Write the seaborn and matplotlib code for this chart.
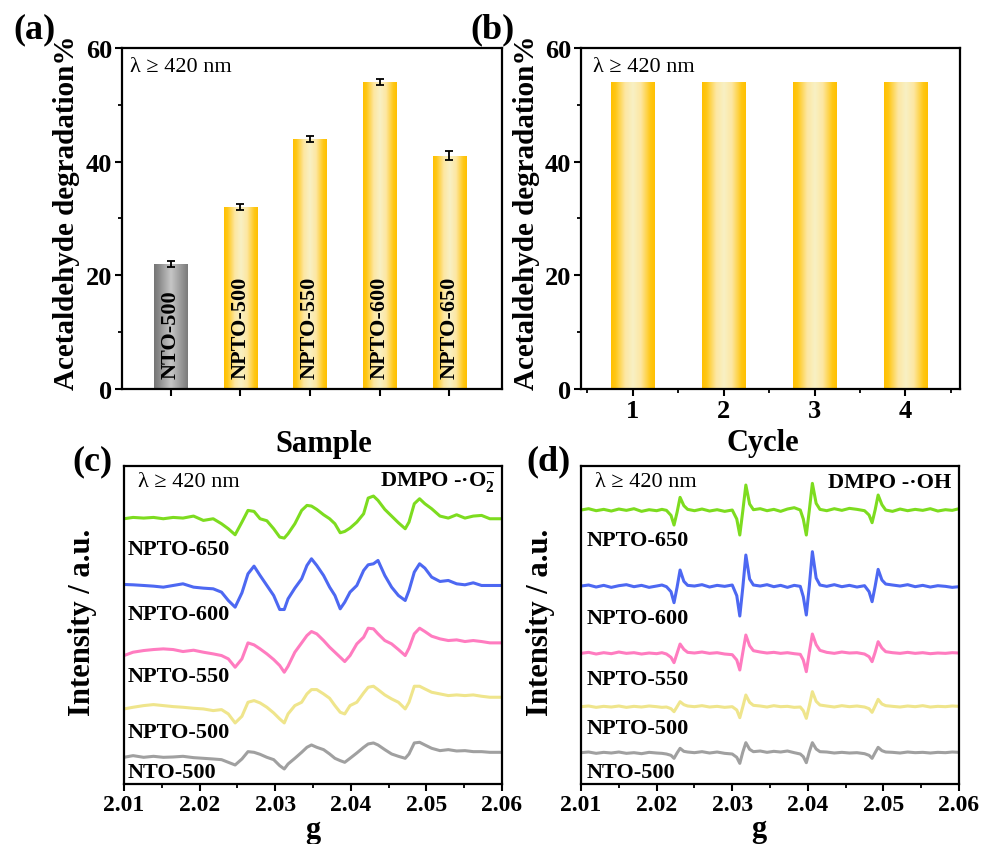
import numpy as np
import matplotlib
matplotlib.use('Agg')
import matplotlib.pyplot as plt
from matplotlib.colors import LinearSegmentedColormap
from matplotlib.ticker import MultipleLocator
import seaborn as sns

# (a) degradation of each sample
samples = ['NTO-500', 'NPTO-500', 'NPTO-550', 'NPTO-600', 'NPTO-650']
degradation = [22.0, 32.0, 44.0, 54.0, 41.0]
degradation_err = [0.5, 0.5, 0.5, 0.6, 0.8]

# (b) cycling test
cycles = ['1', '2', '3', '4']
cycle_degradation = [54.0, 54.0, 54.0, 54.0]

# (c) DMPO-O2- spectra (stacked, a.u.)
g_c = [2.0100, 2.0112, 2.0126, 2.0139, 2.0152, 2.0165, 2.0178, 2.0192, 2.0205, 2.0218,
       2.0229, 2.0238, 2.0247, 2.0256, 2.0264, 2.0272, 2.0280, 2.0289, 2.0298, 2.0306,
       2.0312, 2.0317, 2.0326, 2.0335, 2.0342, 2.0348, 2.0355, 2.0364, 2.0372, 2.0379,
       2.0386, 2.0392, 2.0399, 2.0408, 2.0417, 2.0423, 2.0430, 2.0436, 2.0445, 2.0454,
       2.0463, 2.0472, 2.0477, 2.0484, 2.0491, 2.0498, 2.0507, 2.0518, 2.0529, 2.0540,
       2.0551, 2.0562, 2.0573, 2.0584, 2.0600]
o2_npto650 = [795, 799, 797, 799, 795, 799, 797, 803, 790, 795,
              780, 765, 747, 785, 820, 817, 795, 789, 765, 740,
              737, 750, 780, 820, 835, 833, 823, 807, 795, 780,
              753, 757, 767, 785, 810, 857, 863, 850, 823, 803,
              783, 765, 785, 840, 855, 840, 825, 803, 797, 807,
              797, 803, 805, 795, 795]
o2_npto600 = [598, 597, 595, 593, 590, 595, 600, 590, 587, 585,
              575, 550, 530, 573, 630, 653, 625, 595, 565, 523,
              523, 555, 587, 615, 655, 675, 655, 625, 590, 565,
              525, 545, 575, 595, 640, 657, 660, 670, 625, 590,
              565, 550, 580, 635, 660, 647, 620, 607, 610, 600,
              597, 603, 595, 595, 595]
o2_npto550 = [385, 395, 400, 403, 405, 403, 397, 401, 395, 390,
              385, 375, 350, 375, 423, 417, 405, 390, 373, 355,
              335, 353, 395, 423, 445, 457, 450, 430, 410, 395,
              380, 367, 385, 420, 440, 467, 465, 450, 430, 420,
              403, 385, 407, 450, 467, 457, 443, 435, 430, 432,
              427, 430, 427, 423, 423]
o2_npto500 = [225, 230, 235, 238, 235, 232, 230, 227, 225, 220,
              223, 210, 183, 203, 245, 250, 243, 230, 213, 195,
              183, 210, 235, 245, 270, 283, 283, 270, 257, 235,
              215, 210, 235, 245, 273, 290, 293, 283, 267, 255,
              245, 225, 245, 293, 293, 285, 275, 270, 265, 267,
              265, 267, 263, 260, 260]
o2_nto500 = [80, 85, 80, 83, 80, 81, 83, 79, 77, 75,
             73, 65, 57, 75, 97, 95, 89, 80, 73, 55,
             45, 60, 77, 95, 110, 117, 110, 103, 90, 77,
             70, 65, 77, 93, 110, 120, 123, 117, 103, 90,
             83, 77, 90, 123, 125, 117, 107, 100, 103, 99,
             100, 97, 97, 95, 95]

# (d) DMPO-OH spectra (stacked, a.u.)
g_d = [2.0100, 2.0110, 2.0120, 2.0130, 2.0140, 2.0150, 2.0160, 2.0170, 2.0180, 2.0190, 2.0200, 2.0207,
       2.0213, 2.0219, 2.0223, 2.0227, 2.0231, 2.0236, 2.0241,
       2.0250, 2.0260, 2.0270, 2.0280, 2.0290, 2.0300,
       2.0306, 2.0310, 2.0314, 2.0318, 2.0323, 2.0328,
       2.0337, 2.0346, 2.0355, 2.0364, 2.0373, 2.0382, 2.0390,
       2.0394, 2.0398, 2.0402, 2.0406, 2.0411, 2.0416,
       2.0425, 2.0435, 2.0445, 2.0455, 2.0465, 2.0475,
       2.0481, 2.0485, 2.0489, 2.0493, 2.0498, 2.0503,
       2.0512, 2.0522, 2.0532, 2.0542, 2.0552, 2.0562, 2.0572, 2.0582, 2.0591, 2.0600]
oh_npto650 = [822, 826, 820, 824, 819, 825, 821, 826, 818, 823, 820, 824,
              821, 806, 777, 815, 860, 835, 824,
              820, 825, 819, 823, 818, 822,
              795, 747, 820, 897, 840, 823,
              826, 820, 824, 818, 825, 829, 822,
              795, 747, 822, 902, 842, 824,
              820, 826, 821, 827, 824, 820,
              807, 784, 822, 867, 838, 822,
              818, 825, 820, 824, 821, 826, 819, 823, 821, 826]
oh_npto600 = [594, 597, 591, 596, 590, 595, 598, 592, 596, 590, 594, 597,
              592, 577, 544, 590, 642, 608, 596,
              594, 598, 591, 596, 593, 597,
              565, 504, 590, 687, 615, 597,
              594, 598, 592, 596, 590, 596, 593,
              562, 507, 595, 697, 618, 597,
              593, 598, 592, 596, 591, 595,
              577, 547, 593, 644, 612, 600,
              597, 594, 598, 592, 596, 591, 595, 593, 590, 592]
oh_npto550 = [392, 395, 390, 394, 391, 396, 392, 394, 390, 393, 391, 394,
              390, 380, 364, 392, 420, 404, 395,
              393, 396, 392, 394, 390, 388,
              372, 342, 395, 447, 415, 400,
              396, 393, 395, 392, 394, 391, 389,
              372, 337, 396, 450, 418, 401,
              395, 392, 396, 393, 394, 390,
              382, 367, 395, 427, 408, 397,
              394, 392, 395, 392, 394, 391, 393, 392, 394, 393]
oh_npto500 = [232, 234, 230, 233, 231, 234, 230, 233, 231, 234, 232, 230,
              231, 226, 217, 232, 247, 238, 234,
              232, 235, 231, 233, 230, 232,
              222, 199, 232, 267, 245, 236,
              234, 231, 235, 232, 233, 230, 231,
              220, 197, 235, 277, 248, 237,
              234, 231, 235, 232, 234, 231,
              226, 215, 234, 254, 240, 235,
              233, 231, 234, 232, 235, 231, 233, 232, 234, 233]
oh_nto500 = [94, 96, 92, 95, 93, 96, 92, 94, 91, 95, 93, 92,
             90, 86, 77, 93, 107, 98, 96,
             94, 97, 93, 96, 92, 90,
             80, 62, 96, 124, 104, 97,
             99, 95, 98, 96, 99, 94, 90,
             82, 64, 97, 124, 105, 97,
             96, 93, 95, 93, 94, 91,
             86, 77, 94, 110, 100, 96,
             95, 93, 96, 94, 95, 93, 95, 94, 96, 95]

curve_names = ['NPTO-650', 'NPTO-600', 'NPTO-550', 'NPTO-500', 'NTO-500']
curve_colors = ['#7ddc1f', '#4d68f2', '#ff7cc0', '#efe58c', '#a0a0a0']

sns.set_style('ticks')
plt.rcParams['font.family'] = ['Liberation Serif', 'DejaVu Serif']
plt.rcParams['mathtext.fontset'] = 'custom'
plt.rcParams['mathtext.rm'] = 'Liberation Serif'
plt.rcParams['mathtext.bf'] = 'Liberation Serif:bold'
for key in ['text.color', 'axes.labelcolor', 'xtick.color', 'ytick.color',
            'axes.edgecolor']:
    plt.rcParams[key] = 'black'

gold = LinearSegmentedColormap.from_list('gold', [
    (0.0, '#ffc000'), (0.1, '#ffc714'), (0.32, '#fde7a2'), (0.5, '#f8f0c4'),
    (0.68, '#fde7a2'), (0.9, '#ffc714'), (1.0, '#ffc000')])
grey = LinearSegmentedColormap.from_list('grey', [
    (0.0, '#747474'), (0.12, '#858585'), (0.5, '#c6c6c6'),
    (0.88, '#8c8c8c'), (1.0, '#7a7a7a')])


def shade_bars(ax, cmaps):
    xl, yl = ax.get_xlim(), ax.get_ylim()
    grad = np.linspace(0, 1, 256).reshape(1, -1)
    for patch, cm in zip(ax.patches, cmaps):
        bb = patch.get_bbox()
        im = ax.imshow(grad, cmap=cm, extent=[bb.x0, bb.x1, bb.y0, bb.y1],
                       aspect='auto', zorder=2, interpolation='bilinear')
        im.set_clip_path(patch)
        patch.set_edgecolor('none')
    ax.set_xlim(xl)
    ax.set_ylim(yl)


def style_ticks(ax, size=17):
    ax.tick_params(direction='out', width=1.5, length=5, pad=2, labelsize=size)
    ax.tick_params(which='minor', direction='out', width=1.3, length=3)
    for lab in ax.get_xticklabels() + ax.get_yticklabels():
        lab.set_fontweight('bold')
    for s in ax.spines.values():
        s.set_visible(True)
        s.set_linewidth(1.6)
        s.set_color('black')


fig = plt.figure(figsize=(9.81, 8.45), dpi=100)
ax_a = fig.add_axes([0.1244, 0.5385, 0.3874, 0.4036])
ax_b = fig.add_axes([0.5923, 0.5385, 0.3863, 0.4036])
ax_c = fig.add_axes([0.1264, 0.0710, 0.3853, 0.3763])
ax_d = fig.add_axes([0.5923, 0.0710, 0.3853, 0.3763])

# (a)
sns.barplot(x=samples, y=degradation, ax=ax_a, color='#ffc000', width=0.475,
            saturation=1)
ax_a.set_xlim(-0.7, 4.76)
ax_a.set_ylim(0, 60)
shade_bars(ax_a, [grey] + [gold] * 4)
ax_a.errorbar(range(len(samples)), degradation, yerr=degradation_err, fmt='none',
              ecolor='black', elinewidth=1.3, capsize=3, capthick=1.3, zorder=4)
for i, name in enumerate(samples):
    ax_a.text(i, 2.0, name, rotation=90, ha='center', va='bottom', fontsize=16,
              fontweight='bold', zorder=5)
ax_a.set_yticks([0, 20, 40, 60])
ax_a.yaxis.set_minor_locator(MultipleLocator(10))
ax_a.set_xticks(range(len(samples)))
ax_a.set_xticklabels([])
style_ticks(ax_a, 19)
ax_a.set_xlabel('Sample', fontsize=22, fontweight='bold')
ax_a.xaxis.set_label_coords(0.53, -0.117)
ax_a.set_ylabel('Acetaldehyde degradation%', fontsize=21, fontweight='bold')
ax_a.yaxis.set_label_coords(-0.11, 0.52)
ax_a.text(0.02, 0.947, 'λ ≥ 420 nm', transform=ax_a.transAxes, fontsize=16,
          va='center')

# (b)
sns.barplot(x=cycles, y=cycle_degradation, ax=ax_b, color='#ffc000', width=0.48,
            saturation=1)
ax_b.set_xlim(-0.57, 3.6)
ax_b.set_ylim(0, 60)
shade_bars(ax_b, [gold] * 4)
ax_b.set_yticks([0, 20, 40, 60])
ax_b.yaxis.set_minor_locator(MultipleLocator(10))
ax_b.xaxis.set_minor_locator(MultipleLocator(0.5))
style_ticks(ax_b, 19)
ax_b.set_xlabel('Cycle', fontsize=22, fontweight='bold')
ax_b.xaxis.set_label_coords(0.48, -0.114)
ax_b.set_ylabel('Acetaldehyde degradation%', fontsize=21, fontweight='bold')
ax_b.yaxis.set_label_coords(-0.108, 0.52)
ax_b.text(0.032, 0.947, 'λ ≥ 420 nm', transform=ax_b.transAxes, fontsize=16,
          va='center')

# (c)
for vals, col in zip([o2_npto650, o2_npto600, o2_npto550, o2_npto500, o2_nto500],
                     curve_colors):
    sns.lineplot(x=g_c, y=vals, ax=ax_c, color=col, linewidth=2.2, sort=False)
for name, yy in zip(curve_names, [705, 510, 323, 157, 37]):
    ax_c.text(2.0105, yy, name, fontsize=16, fontweight='bold', va='center')
ax_c.set_ylim(0, 953)
ax_c.text(0.985, 0.95, r'DMPO -·O$_\mathbf{2}^{\mathbf{-}}$', transform=ax_c.transAxes,
          fontsize=16, fontweight='bold', ha='right', va='center')
ax_c.text(0.037, 0.95, 'λ ≥ 420 nm', transform=ax_c.transAxes, fontsize=16,
          va='center')

# (d)
for vals, col in zip([oh_npto650, oh_npto600, oh_npto550, oh_npto500, oh_nto500],
                     curve_colors):
    sns.lineplot(x=g_d, y=vals, ax=ax_d, color=col, linewidth=2.2, sort=False)
for name, yy in zip(curve_names, [732, 497, 314, 167, 37]):
    ax_d.text(2.0107, yy, name, fontsize=16, fontweight='bold', va='center')
ax_d.set_ylim(0, 954)
ax_d.text(0.98, 0.95, 'DMPO -·OH', transform=ax_d.transAxes,
          fontsize=16, fontweight='bold', ha='right', va='center')
ax_d.text(0.037, 0.95, 'λ ≥ 420 nm', transform=ax_d.transAxes, fontsize=16,
          va='center')

for ax in (ax_c, ax_d):
    ax.set_xlim(2.01, 2.06)
    ax.set_xticks([2.01, 2.02, 2.03, 2.04, 2.05, 2.06])
    ax.set_xticklabels(['2.01', '2.02', '2.03', '2.04', '2.05', '2.06'])
    ax.xaxis.set_minor_locator(MultipleLocator(0.005))
    ax.set_yticks([])
    style_ticks(ax)
    ax.set_xlabel('g', fontsize=22, fontweight='bold')
    ax.set_ylabel('Intensity / a.u.', fontsize=22, fontweight='bold')
ax_c.yaxis.set_label_coords(-0.071, 0.51)
ax_d.yaxis.set_label_coords(-0.069, 0.51)
ax_c.xaxis.set_label_coords(0.5, -0.097)
ax_d.xaxis.set_label_coords(0.47, -0.095)

for lab, x, y in [('(a)', 0.014, 0.9645), ('(b)', 0.479, 0.9645),
                  ('(c)', 0.074, 0.453), ('(d)', 0.537, 0.453)]:
    fig.text(x, y, lab, fontsize=26, fontweight='bold', va='center')

fig.savefig('out.png', dpi=100)
